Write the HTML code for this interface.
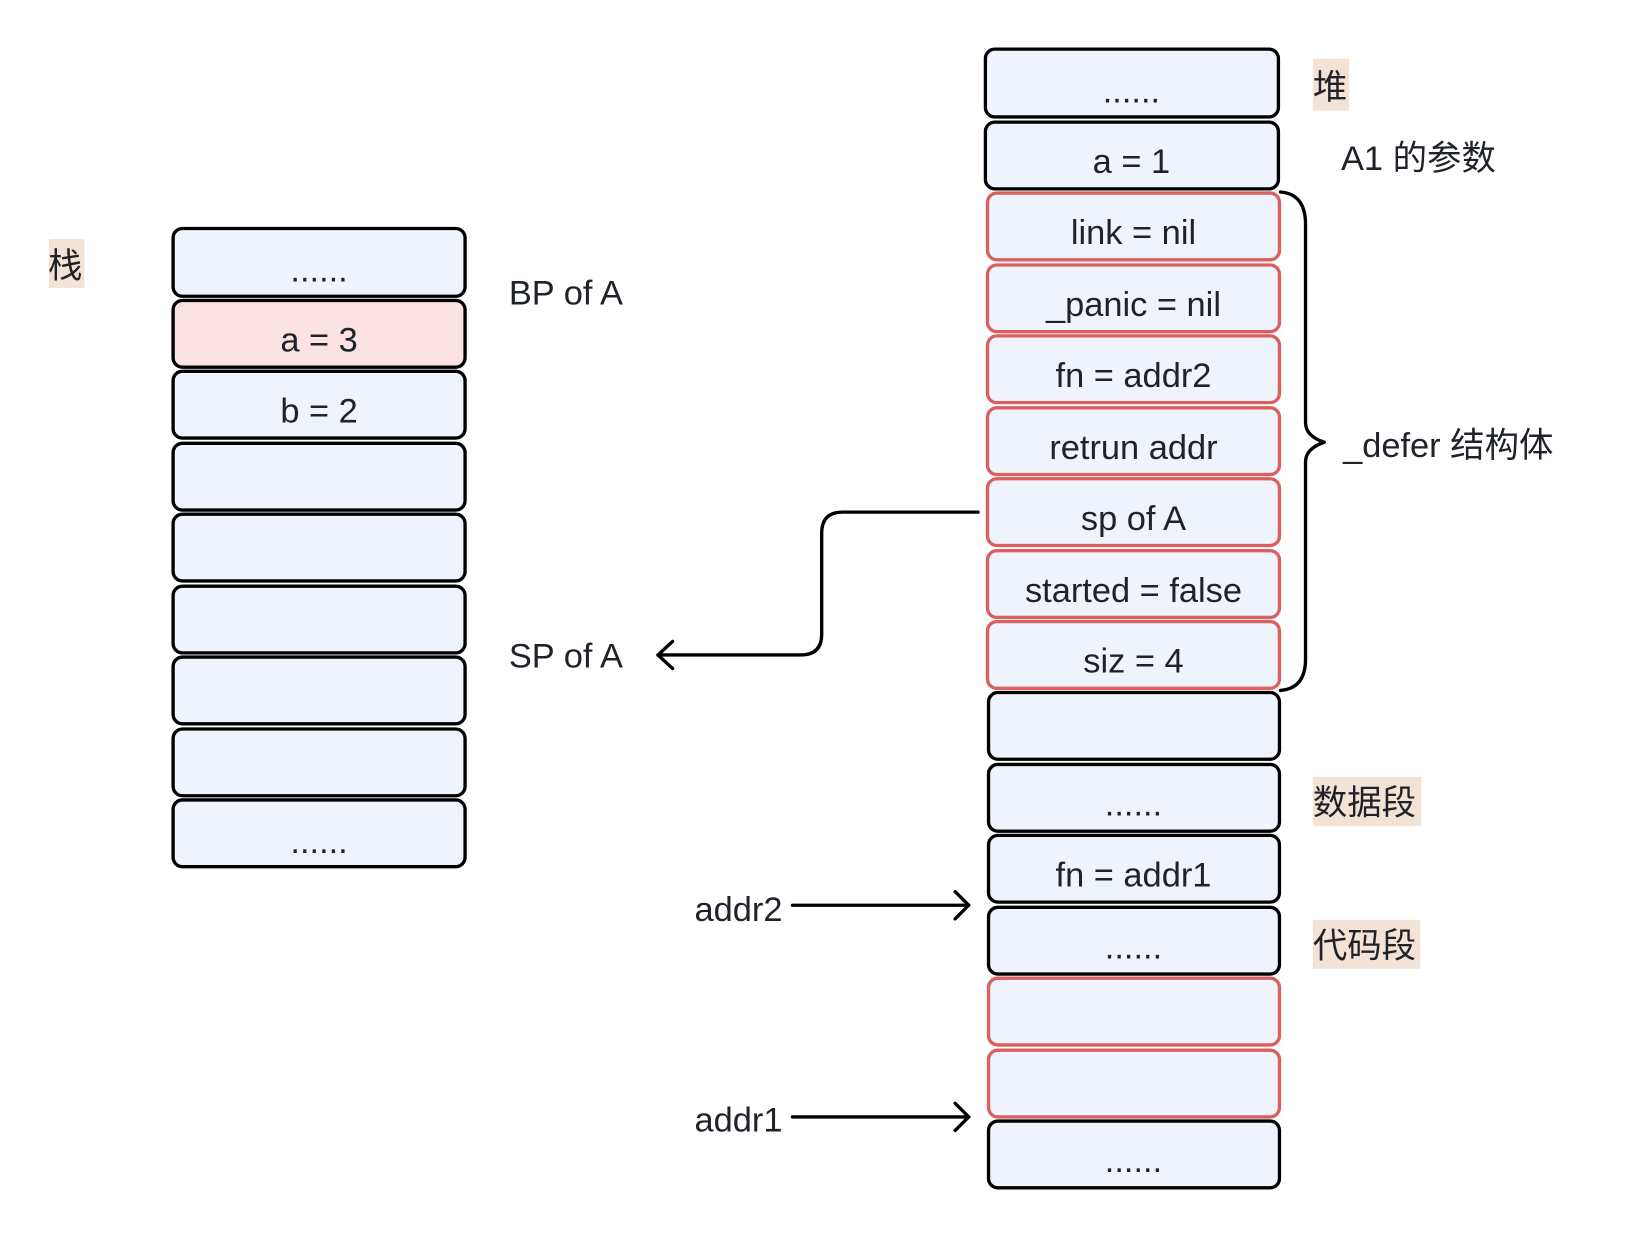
<!DOCTYPE html>
<html><head><meta charset="utf-8"><style>
html,body{margin:0;padding:0;background:#fff;}
svg{display:block;}
text{font-family:"Liberation Sans","Noto Sans CJK SC",sans-serif;fill:#1f2329;}
</style></head><body>
<svg width="1634" height="1238" viewBox="0 0 1567 1187" xmlns="http://www.w3.org/2000/svg">
<g stroke-width="3.2">
<rect x="166" y="219" width="280" height="65" rx="9" fill="#eef3fc" stroke="#000"/>
<rect x="166" y="288" width="280" height="64" rx="9" fill="#fde2e4" stroke="#000"/>
<rect x="166" y="356" width="280" height="64" rx="9" fill="#eef3fc" stroke="#000"/>
<rect x="166" y="425" width="280" height="64" rx="9" fill="#eef3fc" stroke="#000"/>
<rect x="166" y="493" width="280" height="64" rx="9" fill="#eef3fc" stroke="#000"/>
<rect x="166" y="562" width="280" height="64" rx="9" fill="#eef3fc" stroke="#000"/>
<rect x="166" y="630" width="280" height="64" rx="9" fill="#eef3fc" stroke="#000"/>
<rect x="166" y="699" width="280" height="64" rx="9" fill="#eef3fc" stroke="#000"/>
<rect x="166" y="767" width="280" height="64" rx="9" fill="#eef3fc" stroke="#000"/>
<rect x="945" y="47" width="281" height="65" rx="9" fill="#eef3fc" stroke="#000"/>
<rect x="945" y="117" width="281" height="64" rx="9" fill="#eef3fc" stroke="#000"/>
<rect x="947" y="185" width="280" height="64" rx="9" fill="#eef3fc" stroke="#d9605e"/>
<rect x="947" y="254" width="280" height="64" rx="9" fill="#eef3fc" stroke="#d9605e"/>
<rect x="947" y="322" width="280" height="64" rx="9" fill="#eef3fc" stroke="#d9605e"/>
<rect x="947" y="391" width="280" height="64" rx="9" fill="#eef3fc" stroke="#d9605e"/>
<rect x="947" y="459" width="280" height="64" rx="9" fill="#eef3fc" stroke="#d9605e"/>
<rect x="947" y="528" width="280" height="64" rx="9" fill="#eef3fc" stroke="#d9605e"/>
<rect x="947" y="596" width="280" height="64" rx="9" fill="#eef3fc" stroke="#d9605e"/>
<rect x="948" y="664" width="279" height="64" rx="9" fill="#eef3fc" stroke="#000"/>
<rect x="948" y="733" width="279" height="64" rx="9" fill="#eef3fc" stroke="#000"/>
<rect x="948" y="801" width="279" height="64" rx="9" fill="#eef3fc" stroke="#000"/>
<rect x="948" y="870" width="279" height="64" rx="9" fill="#eef3fc" stroke="#000"/>
<rect x="948" y="938" width="279" height="64" rx="9" fill="#eef3fc" stroke="#d9605e"/>
<rect x="948" y="1007" width="279" height="64" rx="9" fill="#eef3fc" stroke="#d9605e"/>
<rect x="948" y="1075" width="279" height="64" rx="9" fill="#eef3fc" stroke="#000"/>
</g>
<rect x="47" y="229" width="34" height="47" fill="#f3e3d6"/>
<rect x="1259" y="56" width="35" height="50" fill="#f3e3d6"/>
<rect x="1259" y="745" width="104" height="47" fill="#f3e3d6"/>
<rect x="1259" y="882" width="103" height="47" fill="#f3e3d6"/>
<g fill="none" stroke="#000" stroke-width="3.2" stroke-linecap="round" stroke-linejoin="round">
<path d="M938,491 H808 Q788,491 788,511 V608 Q788,628 768,628 H631"/>
<path d="M645,615 L631,628 L645,641"/>
<path d="M760,868 H929"/>
<path d="M916,855 L929,868 L916,881"/>
<path d="M760,1071 H929"/>
<path d="M916,1058 L929,1071 L916,1084"/>
<path d="M1228,184 Q1252,186 1252,215 V405 Q1252,418 1270,424 Q1252,430 1252,443 V632 Q1252,660 1228,662"/>
</g>
<g font-size="33" text-anchor="middle">
<text x="306" y="270">......</text>
<text x="306" y="337">a = 3</text>
<text x="306" y="405">b = 2</text>
<text x="306" y="818">......</text>
<text x="1085" y="98">......</text>
<text x="1085" y="166">a = 1</text>
<text x="1087" y="234">link = nil</text>
<text x="1087" y="303">_panic = nil</text>
<text x="1087" y="371">fn = addr2</text>
<text x="1087" y="440">retrun addr</text>
<text x="1087" y="508">sp of A</text>
<text x="1087" y="577">started = false</text>
<text x="1087" y="645">siz = 4</text>
<text x="1087" y="782">......</text>
<text x="1087" y="850">fn = addr1</text>
<text x="1087" y="919">......</text>
<text x="1087" y="1124">......</text>
</g>
<g font-size="33">
<text x="46" y="266">栈</text>
<text x="488" y="292">BP of A</text>
<text x="488" y="640">SP of A</text>
<text x="1259" y="95">堆</text>
<text x="1286" y="163">A1 的参数</text>
<text x="1288" y="438">_defer 结构体</text>
<text x="1259" y="781">数据段</text>
<text x="1259" y="918">代码段</text>
<text x="666" y="883">addr2</text>
<text x="666" y="1085">addr1</text>
</g>
</svg>
</body></html>
